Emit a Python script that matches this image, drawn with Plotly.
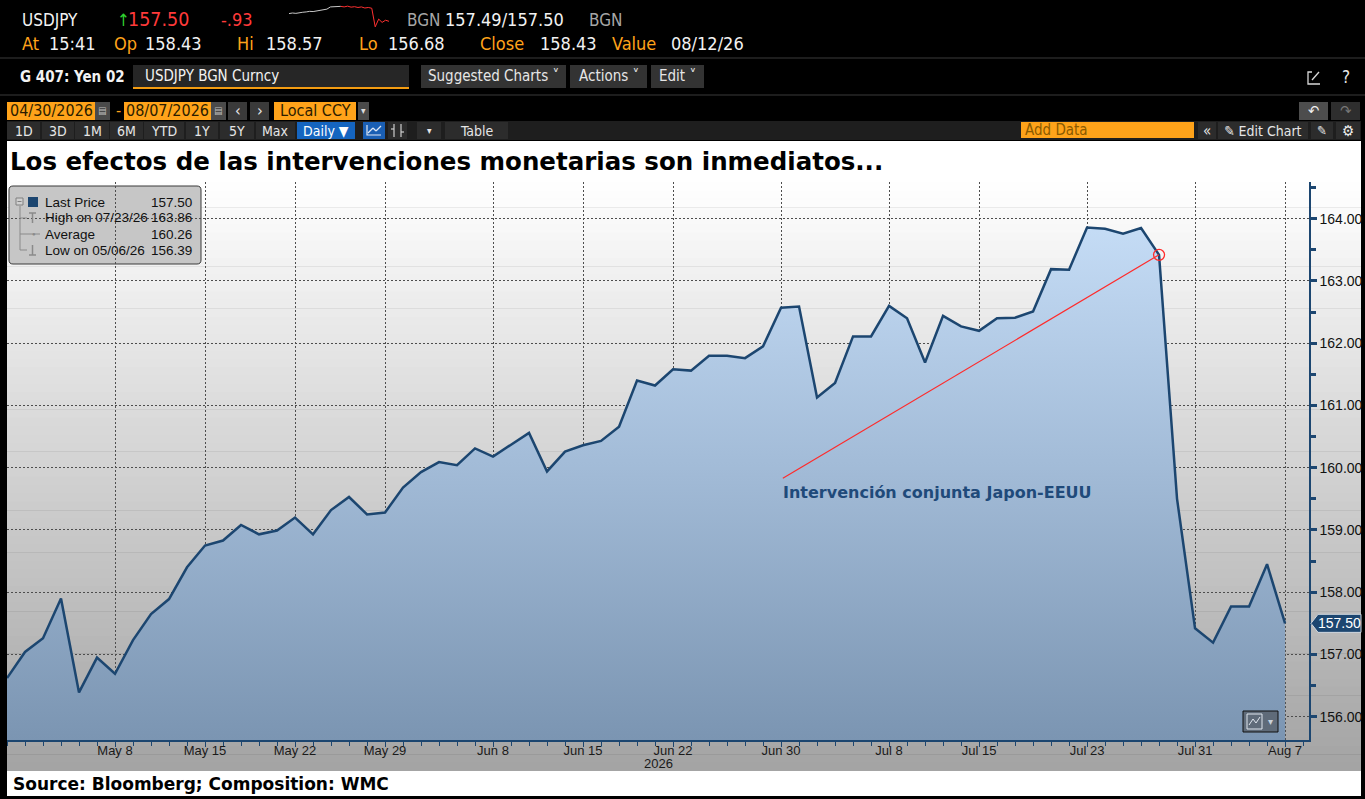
import pandas as pd
import plotly.graph_objects as go

W, H = 1365, 799

# business days shown on the chart
START, END = "2026-04-30", "2026-08-07"
PRICE = [156.62, 157.04, 157.26, 157.90, 156.39, 156.95, 156.69, 157.23, 157.65, 157.89,
         158.40, 158.75, 158.83, 159.08, 158.93, 158.99, 159.20, 158.93, 159.32, 159.53,
         159.25, 159.28, 159.68, 159.93, 160.09, 160.04, 160.31, 160.18, 160.37, 160.56,
         159.94, 160.26, 160.36, 160.43, 160.66, 161.40, 161.32, 161.58, 161.56, 161.80,
         161.80, 161.76, 161.95, 162.57, 162.59, 161.13, 161.36, 162.11, 162.11, 162.60,
         162.40, 161.69, 162.44, 162.27, 162.20, 162.40, 162.41, 162.51, 163.19, 163.18,
         163.86, 163.84, 163.76, 163.85, 163.42, 159.50, 157.42, 157.19, 157.77, 157.77,
         158.45, 157.50]
TICK_DATES = ["2026-05-08", "2026-05-15", "2026-05-22", "2026-05-29", "2026-06-08",
              "2026-06-15", "2026-06-22", "2026-06-30", "2026-07-08", "2026-07-15",
              "2026-07-23", "2026-07-31", "2026-08-07"]
TICK_LABELS = ["May 8", "May 15", "May 22", "May 29", "Jun 8", "Jun 15", "Jun 22",
               "Jun 30", "Jul 8", "Jul 15", "Jul 23", "Jul 31", "Aug 7"]
AVERAGE = 160.26
EVENT_DATE = "2026-07-29"
EVENT_FROM = ("2026-06-30", 159.83)
EVENT_TEXT = "Intervención conjunta Japon-EEUU"
TITLE = "Los efectos de las intervenciones monetarias son inmediatos..."
SOURCE = "Source: Bloomberg; Composition: WMC"

# intraday sparkline in the quote header
SPARK_GRAY = [157.90, 157.95, 157.92, 158.00, 158.02, 158.05, 158.10, 158.08, 158.15,
              158.20, 158.25, 158.30, 158.50, 158.52, 158.50, 158.55]
SPARK_RED = [158.55, 158.50, 158.57, 158.48, 158.52, 158.45, 158.50, 158.40, 158.45,
             158.38, 156.70, 157.40, 157.10, 157.30, 157.20]

NAVY = "#1c4670"
ORANGE = "#ffa31a"
COND = "DejaVu Sans Condensed, Liberation Sans Narrow, Liberation Sans, sans-serif"
SANS = "Liberation Sans, Arial, sans-serif"
BOLD = "DejaVu Sans, Verdana, sans-serif"
Y_LO, Y_HI = 155.626, 164.59

dates = pd.bdate_range(START, END)
idx = list(range(len(dates)))
pos = {d.strftime("%Y-%m-%d"): i for i, d in enumerate(dates)}


def px(x):
    return x / W


def py(y):
    return 1 - y / H


shapes = []
notes = []


def box(x0, x1, y0, y1, fill, line=None, layer="above", width=1):
    shapes.append(dict(type="rect", xref="paper", yref="paper",
                       x0=px(x0), x1=px(x1), y0=py(y1), y1=py(y0),
                       fillcolor=fill, layer=layer,
                       line=dict(color=line or fill, width=width if line else 0)))


def seg(x0, y0, x1, y1, color, width=1):
    shapes.append(dict(type="line", xref="paper", yref="paper",
                       x0=px(x0), x1=px(x1), y0=py(y0), y1=py(y1),
                       line=dict(color=color, width=width)))


def note(x, y, text, size=15, color="#e8e8e8", family=COND, anchor="left", bold=False):
    notes.append(dict(x=px(x), y=py(y), xref="paper", yref="paper",
                      text="<b>%s</b>" % text if bold else text, showarrow=False,
                      xanchor=anchor, yanchor="middle",
                      font=dict(size=size, color=color, family=family)))


def button(x0, x1, y0, y1, label, fill="#333333", color="#e6e6e6", size=14):
    box(x0, x1, y0, y1, fill)
    note((x0 + x1) / 2, (y0 + y1) / 2, label, size=size, color=color, anchor="center")


# ---- chart panel background
box(7, 1361, 141, 182, "#ffffff", layer="below")
n_strips = 70
for k in range(n_strips):
    y0 = 182 + (771 - 182) * k / n_strips
    y1 = 182 + (771 - 182) * (k + 1) / n_strips + 0.6
    g = int(round(255 - 92 * ((y0 + y1) / 2 - 182) / (771 - 182)))
    box(7, 1361, y0, y1, "rgb(%d,%d,%d)" % (g, g, g), layer="below")
box(7, 1361, 771, 796, "#ffffff", layer="below")

# ---- legend box (under the grid like the original)
r = 4
lx0, lx1, ly0, ly1 = 9, 201, 186, 264
path = ("M %f,%f L %f,%f Q %f,%f %f,%f L %f,%f Q %f,%f %f,%f L %f,%f Q %f,%f %f,%f "
        "L %f,%f Q %f,%f %f,%f Z") % (
    px(lx0 + r), py(ly0), px(lx1 - r), py(ly0), px(lx1), py(ly0), px(lx1), py(ly0 + r),
    px(lx1), py(ly1 - r), px(lx1), py(ly1), px(lx1 - r), py(ly1),
    px(lx0 + r), py(ly1), px(lx0), py(ly1), px(lx0), py(ly1 - r),
    px(lx0), py(ly0 + r), px(lx0), py(ly0), px(lx0 + r), py(ly0))
shapes.append(dict(type="path", xref="paper", yref="paper", path=path, layer="below",
                   fillcolor="#c6c6c6", line=dict(color="#3a3a3a", width=1)))

hi_i = max(idx, key=lambda i: PRICE[i])
lo_i = min(idx, key=lambda i: PRICE[i])
legend_rows = [
    ("Last Price", "%.2f" % PRICE[-1]),
    ("High on %s" % dates[hi_i].strftime("%m/%d/%y"), "%.2f" % PRICE[hi_i]),
    ("Average", "%.2f" % AVERAGE),
    ("Low on %s" % dates[lo_i].strftime("%m/%d/%y"), "%.2f" % PRICE[lo_i]),
]
for k, (lab, val) in enumerate(legend_rows):
    yy = 202 + 16 * k
    note(43, yy, lab, size=13.5, color="#111111", family=SANS)
    note(194, yy, val, size=13.5, color="#111111", family=SANS, anchor="right")
box(28, 38, 197, 207, NAVY)
box(16, 23, 198, 205, "#d0d0d0", line="#808080")
seg(17.5, 201.5, 21.5, 201.5, "#808080")
seg(20, 206, 20, 250, "#8a8a8a")
for yy in (218, 234, 250):
    seg(20, yy, 27, yy, "#8a8a8a")
seg(29, 213, 36, 213, "#8a8a8a", 1.5)
seg(32.5, 213, 32.5, 223, "#8a8a8a", 1.5)
seg(27, 234, 40, 234, "#8a8a8a")
note(33.5, 234, "●", size=6, color="#8a8a8a", family=SANS, anchor="center")
seg(32.5, 245, 32.5, 255, "#8a8a8a", 1.5)
seg(29, 255, 36, 255, "#8a8a8a", 1.5)

# ---- quote header
note(20, 20, "USDJPY", size=17, color="#f2f2f2")
note(115, 20, "↑", size=17, color="#2fd12f")
note(126, 20, "157.50", size=19.5, color="#ff3a3a")
note(219, 20, "-.93", size=18, color="#ff3a3a")
note(405, 20, "BGN", size=17, color="#a6a6a6")
note(443, 20, "157.49/157.50", size=18, color="#f2f2f2")
note(587, 20, "BGN", size=17, color="#a6a6a6")
row2 = [(20, "At", ORANGE), (47, "15:41", "#f2f2f2"), (112, "Op", ORANGE),
        (143, "158.43", "#f2f2f2"), (235, "Hi", ORANGE), (264, "158.57", "#f2f2f2"),
        (357, "Lo", ORANGE), (386, "156.68", "#f2f2f2"), (478, "Close", ORANGE),
        (538, "158.43", "#f2f2f2"), (610, "Value", ORANGE), (669, "08/12/26", "#f2f2f2")]
for x, t, c in row2:
    note(x, 43, t, size=18, color=c)
seg(0, 58, 1365, 58, "#3a3a3a")
seg(0, 95, 1365, 95, "#3a3a3a")

# ---- security bar
note(18, 77, "G 407: Yen 02", size=15, color="#f2f2f2", bold=True)
box(133, 409, 65, 88, "#262626")
seg(133, 88, 409, 88, "#f39c12", 2)
note(143, 76, "USDJPY BGN Curncy", size=15, color="#f2f2f2")
button(421, 566, 65, 88, "Suggested Charts ˅", size=15)
button(570, 647, 65, 88, "Actions ˅", size=15)
button(651, 704, 65, 88, "Edit ˅", size=15)
shapes.append(dict(type="path", xref="paper", yref="paper", line=dict(color="#d8d8d8", width=1.3),
                   path="M %f,%f L %f,%f L %f,%f L %f,%f" % (px(1312), py(72), px(1308), py(72),
                                                             px(1308), py(84), px(1320), py(84))))
seg(1312, 80, 1319, 72, "#d8d8d8", 1.3)
note(1346, 77, "?", size=17, color="#e8e8e8", anchor="center")

# ---- date range row
button(7, 95, 102, 120, "04/30/2026", fill=ORANGE, color="#2b1d00", size=16)
button(95, 110, 102, 120, "▤", fill="#4a4a4a", color="#bdbdbd", size=10)
note(118, 111, "-", size=16, color=ORANGE, anchor="center")
button(124, 211, 102, 120, "08/07/2026", fill=ORANGE, color="#2b1d00", size=16)
button(211, 226, 102, 120, "▤", fill="#4a4a4a", color="#bdbdbd", size=10)
button(228, 247, 102, 120, "‹", fill="#3a3a3a", size=16)
button(250, 269, 102, 120, "›", fill="#3a3a3a", size=16)
button(274, 356, 102, 120, "Local CCY", fill=ORANGE, color="#2b1d00", size=16)
button(358, 369, 102, 120, "▾", fill="#4a4a4a", color="#dddddd", size=10)
button(1299, 1328, 102, 120, "↶", fill="#4d4d4d", color="#f0f0f0", size=15)
button(1331, 1360, 102, 120, "↷", fill="#2e2e2e", color="#777777", size=15)

# ---- toolbar row
box(7, 1361, 121, 140, "#1e1e1e")
for lab, x0, x1 in [("1D", 7, 40), ("3D", 42, 74), ("1M", 75, 109), ("6M", 110, 143),
                    ("YTD", 144, 184), ("1Y", 186, 218), ("5Y", 220, 254), ("Max", 256, 295)]:
    button(x0, x1, 122, 139, lab, fill="#2c2c2c")
button(297, 355, 122, 139, "Daily ▼", fill="#1565c0", color="#ffffff")
box(363, 385, 122, 139, "#1a5fb4")
shapes.append(dict(type="path", xref="paper", yref="paper", line=dict(color="#dfe8f5", width=1.2),
                   path="M %f,%f L %f,%f L %f,%f" % (
                       px(367), py(125), px(367), py(135), px(381), py(135))))
seg(368, 133, 373, 128, "#dfe8f5", 1.2)
seg(373, 128, 376, 131, "#dfe8f5", 1.2)
seg(376, 131, 381, 126, "#dfe8f5", 1.2)
box(388, 407, 122, 139, "#2c2c2c")
seg(394, 124, 394, 137, "#cfcfcf", 1.2)
seg(401, 124, 401, 137, "#cfcfcf", 1.2)
seg(391, 129, 394, 129, "#cfcfcf", 1.2)
seg(401, 132, 404, 132, "#cfcfcf", 1.2)
button(417, 441, 122, 139, "▾", fill="#2c2c2c", size=10)
button(445, 508, 122, 139, "Table", fill="#2c2c2c")
box(1021, 1194, 122, 138, ORANGE)
note(1023, 130, "Add Data", size=15, color="#8a5a00")
button(1198, 1216, 122, 139, "«", fill="#2c2c2c", size=15)
button(1218, 1308, 122, 139, "✎ Edit Chart", fill="#2c2c2c", size=14)
button(1311, 1333, 122, 139, "✎", fill="#2c2c2c", size=13)
button(1336, 1360, 122, 139, "⚙", fill="#2c2c2c", color="#f0f0f0", size=15)

# ---- chart texts
note(8, 161, TITLE, size=24.5, color="#000000", family=BOLD, bold=True)
note(11, 784, SOURCE, size=17, color="#000000", family=BOLD, bold=True)
note(658, 763, "2026", size=13, color="#1a1a1a", family=SANS, anchor="center")

# intervention pointer
ev_i = pos[EVENT_DATE]
shapes.append(dict(type="line", xref="x", yref="y", x0=pos[EVENT_FROM[0]] + 0.1, y0=EVENT_FROM[1],
                   x1=ev_i, y1=PRICE[ev_i], line=dict(color="#ff2a2a", width=1.2)))
notes.append(dict(x=pos[EVENT_FROM[0]], y=159.61, xref="x", yref="y", text="<b>%s</b>" % EVENT_TEXT,
                  showarrow=False, xanchor="left", yanchor="middle",
                  font=dict(size=16, color="#1f4a7a", family=BOLD)))

# last price tag on the axis
lp = PRICE[-1]
shapes.append(dict(type="path", xref="paper", yref="y", fillcolor=NAVY,
                   line=dict(color="#d0d8e0", width=1),
                   path="M %f,%f L %f,%f L %f,%f L %f,%f L %f,%f Z" % (
                       px(1311), lp, px(1318), lp + 0.145, px(1361), lp + 0.145,
                       px(1361), lp - 0.145, px(1318), lp - 0.145)))
notes.append(dict(x=px(1339.5), y=lp, xref="paper", yref="y", text="%.2f" % lp, showarrow=False,
                  xanchor="center", yanchor="middle",
                  font=dict(size=14, color="#ffffff", family=SANS)))

# chart type widget bottom right
box(1243, 1278, 711, 732, "#5f6b79", line="#111111")
box(1247, 1262, 714, 729, "#5f6b79", line="#dfe6ee")
seg(1249, 725, 1253, 719, "#dfe6ee")
seg(1253, 719, 1256, 723, "#dfe6ee")
seg(1256, 723, 1260, 717, "#dfe6ee")
note(1270, 721, "▾", size=10, color="#c9d1da", family=SANS, anchor="center")

fig = go.Figure()
fig.add_trace(go.Scatter(
    x=idx, y=PRICE, mode="lines", line=dict(color=NAVY, width=2.5),
    fill="tozeroy",
    fillgradient=dict(type="vertical", start=Y_LO, stop=Y_HI,
                      colorscale=[[0, "#7b95b2"], [0.5, "#a3bcd8"], [1, "#cbe2fb"]]),
    hoverinfo="skip", showlegend=False))
fig.add_trace(go.Scatter(
    x=[ev_i], y=[PRICE[ev_i]], mode="markers",
    marker=dict(symbol="circle-open", size=11, color="#ff2a2a", line=dict(width=1.3)),
    hoverinfo="skip", showlegend=False))
fig.add_trace(go.Scatter(
    x=list(range(len(SPARK_GRAY))), y=SPARK_GRAY, mode="lines",
    line=dict(color="#c8c8c8", width=1), xaxis="x2", yaxis="y2",
    hoverinfo="skip", showlegend=False))
fig.add_trace(go.Scatter(
    x=list(range(len(SPARK_GRAY) - 1, len(SPARK_GRAY) - 1 + len(SPARK_RED))), y=SPARK_RED,
    mode="lines", line=dict(color="#ff3030", width=1), xaxis="x2", yaxis="y2",
    hoverinfo="skip", showlegend=False))

fig.update_layout(
    width=W, height=H,
    margin=dict(l=0, r=0, t=0, b=0),
    paper_bgcolor="#000000",
    plot_bgcolor="rgba(0,0,0,0)",
    showlegend=False,
    shapes=shapes,
    annotations=notes,
    xaxis=dict(
        domain=[px(7), px(1309)], range=[0, 72.33], anchor="y",
        tickmode="array", tickvals=[pos[d] for d in TICK_DATES], ticktext=TICK_LABELS,
        showgrid=True, gridcolor="#4d4d4d", griddash="2px,2px", gridwidth=1,
        zeroline=False, showline=True, linecolor=NAVY, linewidth=1.5,
        ticks="outside", ticklen=5, tickcolor=NAVY, tickwidth=1,
        ticklabelstandoff=-7,
        tickfont=dict(family=SANS, size=13, color="#1a1a1a"),
        minor=dict(tickmode="linear", tick0=0, dtick=1, ticks="outside", ticklen=4,
                   tickcolor=NAVY, showgrid=False),
        fixedrange=True,
    ),
    yaxis=dict(
        domain=[py(740), py(182)], range=[Y_LO, Y_HI], anchor="x", side="right",
        tickmode="linear", tick0=156, dtick=1, tickformat=".2f",
        showgrid=True, gridcolor="#4d4d4d", griddash="2px,2px", gridwidth=1,
        zeroline=False, showline=True, linecolor=NAVY, linewidth=1.5,
        ticks="outside", ticklen=6, tickwidth=3, tickcolor=NAVY,
        tickfont=dict(family=SANS, size=14, color="#111111"),
        minor=dict(tickmode="linear", tick0=155.5, dtick=1, ticks="outside", ticklen=5,
                   tickcolor=NAVY, showgrid=False),
        fixedrange=True,
    ),
    xaxis2=dict(domain=[px(289), px(389)], anchor="y2", visible=False, fixedrange=True),
    yaxis2=dict(domain=[py(28), py(5)], anchor="x2", visible=False, fixedrange=True),
)

# the page body has a default margin; drop it so the figure fills the window
fig.write_html("out.html", config={"displayModeBar": False},
               post_script="document.body.style.margin='0';")
